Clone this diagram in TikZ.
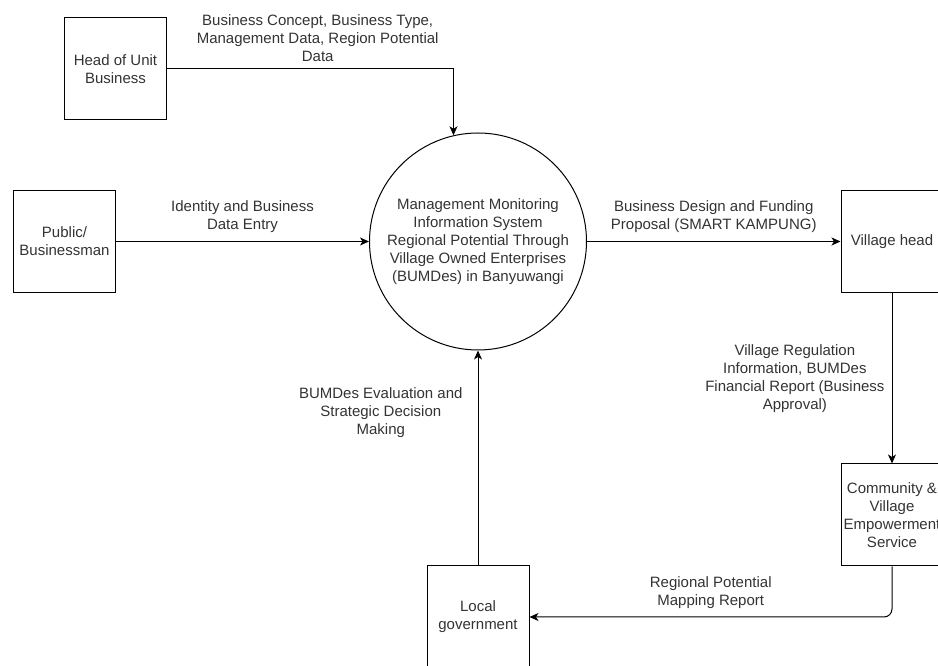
\documentclass[tikz,border=0pt]{standalone}
\usepackage{fontspec}
\setmainfont{Liberation Sans}
\usetikzlibrary{positioning}
\usetikzlibrary{arrows.meta}
\newcommand{\dfdfont}{\fontsize{15}{18}\selectfont}
\tikzset{
    node distance=413.5pt,
    entity/.style={
        draw,
        line width=1pt,
        minimum size=102pt,
        inner sep=0pt,
        align=center,
        text=black!80,
        font=\dfdfont
    },
    process/.style={
        circle,
        draw,
        line width=1pt,
        minimum size=217pt,
        inner sep=0pt,
        align=center,
        text=black!80,
        font=\dfdfont
    },
    flowlabel/.style={
        inner sep=0pt,
        align=center,
        text=black!80,
        font=\dfdfont
    },
    flow/.style={
        draw,
        -{Stealth[length=9pt,width=8pt,inset=2.5pt]},
        line width=1pt
    },
    every edge/.append style={
        flow
    }
}

\begin{document}
\begin{tikzpicture}[x=1pt, y=1pt]
                \useasboundingbox (0,0) rectangle (938,666);
                \clip (0,0) rectangle (938,666);

                \node[process] (sys) at (478,424.5) {Management Monitoring\\Information System\\Regional Potential Through\\Village Owned Enterprises\\(BUMDes) in Banyuwangi};
                \node[entity, left of=sys] (pub) {Public/\\Businessman};
                \node[entity, above of=pub, node distance=172.5pt, xshift=51pt] (head) {Head of Unit\\Business};
                \node[entity, right of=sys, xshift=0.5pt] (vh) {Village head};
                \node[entity, below of=vh, node distance=273.5pt] (cvs) {Community \&\\Village\\Empowerment\\Service};
                \node[entity, below of=sys, node distance=375.5pt] (gov) {Local\\government};

                \draw[flow] (head.east) -| (sys.103) node[flowlabel, pos=0.263, above=7pt] {Business Concept, Business Type,\\Management Data, Region Potential\\Data};
                \draw (pub) edge node[flowlabel, above=8pt] {Identity and Business\\Data Entry} (sys);
                \draw (sys) edge node[flowlabel, above=8pt] {Business Design and Funding\\Proposal (SMART KAMPUNG)} (vh);
                \draw (vh) edge node[flowlabel, left=7pt] {Village Regulation\\Information, BUMDes\\Financial Report (Business\\Approval)} (cvs);
                \draw[flow, rounded corners=8pt] (cvs.south) |- (gov.east) node[flowlabel, pos=0.75, above=8pt] {Regional Potential\\Mapping Report};
                \draw (gov) edge node[flowlabel, pos=0.71, left=15pt] {BUMDes Evaluation and\\Strategic Decision\\Making} (sys);
            \end{tikzpicture}
\end{document}
